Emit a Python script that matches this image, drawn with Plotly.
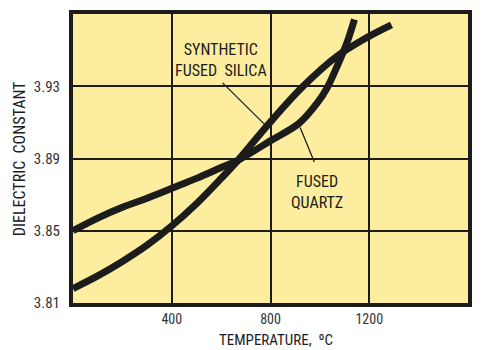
import plotly.graph_objects as go

# Temperature (deg C) and dielectric constant readings
temp_quartz = [0, 100, 200, 300, 400, 500, 600, 668, 800, 916, 988, 1028, 1068, 1108, 1140]
eps_quartz = [3.850, 3.857, 3.863, 3.868, 3.8735, 3.879, 3.885, 3.889, 3.8998, 3.9095,
              3.9205, 3.9288, 3.9405, 3.9535, 3.967]

temp_silica = [0, 100, 200, 300, 400, 500, 600, 668, 800, 936, 1068, 1188, 1290]
eps_silica = [3.818, 3.825, 3.833, 3.842, 3.8527, 3.865, 3.879, 3.889, 3.9103, 3.9305,
              3.9465, 3.9568, 3.964]

x_ticks = [400, 800, 1200]
y_ticks = [3.81, 3.85, 3.89, 3.93]

FONT = "Liberation Sans Narrow, Arial Narrow, Roboto Condensed, sans-serif"
INK = "#1c1c1c"

fig = go.Figure()
for t, e, name in [(temp_quartz, eps_quartz, "FUSED QUARTZ"),
                   (temp_silica, eps_silica, "SYNTHETIC FUSED SILICA")]:
    fig.add_trace(go.Scatter(x=t, y=e, mode="lines", name=name,
                             line=dict(color=INK, width=7, shape="spline", smoothing=1.0),
                             showlegend=False, hoverinfo="skip"))

# Curve labels with leader lines
fig.add_annotation(x=776, y=3.9089, ax=600, ay=3.9327, xref="x", yref="y",
                   axref="x", ayref="y", showarrow=True, arrowhead=0,
                   arrowwidth=1.3, arrowcolor=INK, text="")
fig.add_annotation(x=920, y=3.9072, ax=980, ay=3.8872, xref="x", yref="y",
                   axref="x", ayref="y", showarrow=True, arrowhead=0,
                   arrowwidth=1.3, arrowcolor=INK, text="")
fig.add_annotation(x=598, y=3.9448, text="SYNTHETIC<br>FUSED  SILICA", showarrow=False,
                   font=dict(family=FONT, size=16, color=INK), align="center")
fig.add_annotation(x=988, y=3.8714, text="FUSED<br>QUARTZ", showarrow=False,
                   font=dict(family=FONT, size=16, color=INK), align="center")

# Axis titles
fig.add_annotation(x=0.515, y=-0.128, xref="paper", yref="paper", yanchor="middle",
                   text="TEMPERATURE,  ºC", showarrow=False,
                   font=dict(family=FONT, size=15, color=INK))
fig.add_annotation(x=-0.135, y=0.5, xref="paper", yref="paper", textangle=-90,
                   xanchor="center", yanchor="middle",
                   text="DIELECTRIC  CONSTANT", showarrow=False,
                   font=dict(family=FONT, size=16, color=INK))

axis_common = dict(showgrid=True, gridcolor=INK, gridwidth=2, zeroline=False,
                   showline=True, linecolor=INK, linewidth=4, mirror=True,
                   ticks="", tickfont=dict(family=FONT, size=15, color="#333"))

fig.update_xaxes(range=[0, 1600], tickvals=x_ticks, ticktext=[str(v) for v in x_ticks],
                 ticklabelstandoff=0, **axis_common)
fig.update_xaxes(tickfont_size=14)
fig.update_yaxes(range=[3.81, 3.97], tickvals=y_ticks, ticktext=[f"{v:.2f}" for v in y_ticks],
                 ticklabelstandoff=6, **axis_common)

fig.update_layout(width=482, height=350, margin=dict(l=73, r=10, t=11, b=47),
                  paper_bgcolor="white", plot_bgcolor="#FCEE9E",
                  font=dict(family=FONT))

fig.write_html("out.html")
